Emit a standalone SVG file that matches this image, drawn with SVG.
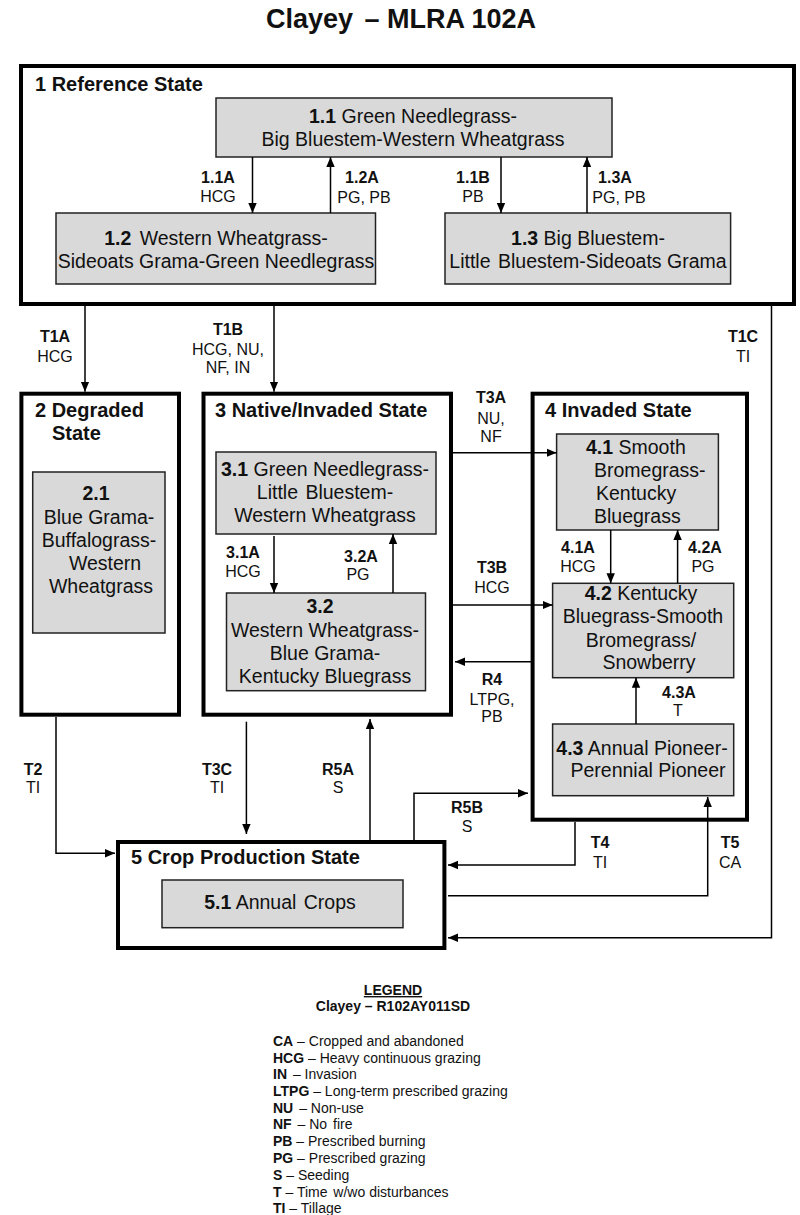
<svg xmlns="http://www.w3.org/2000/svg" width="800" height="1215" viewBox="0 0 800 1215">
<defs>
<marker id="ah" markerUnits="userSpaceOnUse" markerWidth="10" markerHeight="10" refX="10" refY="5" orient="auto" viewBox="0 0 10 10">
<path d="M0,0.8 L10,5 L0,9.2 z" fill="#000"/>
</marker>
<style>
text{font-family:"Liberation Sans",Arial,Helvetica,sans-serif;fill:#111}
.state{fill:none;stroke:#000;stroke-width:4}
.box{fill:#d9d9d9;stroke:#222;stroke-width:1.5}
.bt{font-size:19.5px;text-anchor:middle}
.btl{font-size:19.5px}
.sh{font-size:20px;font-weight:bold}
.lb{font-size:16px;text-anchor:middle}
.b{font-weight:bold}
.conn{fill:none;stroke:#000;stroke-width:1.5;marker-end:url(#ah)}
.lg{font-size:14px}
</style>
</defs>
<rect width="800" height="1215" fill="#fff"/>
<text x="401" y="28" font-size="27" font-weight="bold" text-anchor="middle">Clayey <tspan dx="4">– MLRA 102A</tspan></text>

<g id="state1">
<rect class="state" x="21" y="66" width="773" height="238"/>
<text class="sh" x="35" y="91">1 Reference State</text>
</g>
<g id="n1_1">
<rect class="box" x="216" y="98" width="396" height="59"/>
<text class="bt" x="413" y="123"><tspan class="b">1.1</tspan> Green Needlegrass-</text>
<text class="bt" x="413" y="146">Big Bluestem-Western Wheatgrass</text>
</g>
<g id="n1_2">
<rect class="box" x="56" y="213" width="319.5" height="71"/>
<text class="bt" x="216" y="245"><tspan class="b">1.2</tspan> <tspan dx="3">Western Wheatgrass-</tspan></text>
<text class="bt" x="216" y="268">Sideoats Grama-Green Needlegrass</text>
</g>
<g id="n1_3">
<rect class="box" x="445" y="213" width="285.6" height="71"/>
<text class="bt" x="588" y="245"><tspan class="b">1.3</tspan> Big Bluestem-</text>
<text class="bt" x="588" y="268">Little <tspan dx="2">Bluestem-Sideoats Grama</tspan></text>
</g>

<g id="state2">
<rect class="state" x="21.4" y="393.7" width="157.6" height="321"/>
<text class="sh" x="35" y="417">2 Degraded</text>
<text class="sh" x="52" y="440">State</text>
</g>
<g id="n2_1">
<rect class="box" x="32.7" y="472" width="132.3" height="161"/>
<text class="bt b" x="96" y="500">2.1</text>
<text class="bt" x="99" y="524">Blue Grama-</text>
<text class="bt" x="99" y="547">Buffalograss-</text>
<text class="bt" x="105" y="570">Western</text>
<text class="bt" x="101" y="593">Wheatgrass</text>
</g>

<g id="state3">
<rect class="state" x="203.5" y="393.7" width="247.5" height="321"/>
<text class="sh" x="215" y="417">3 Native/Invaded State</text>
</g>
<g id="n3_1">
<rect class="box" x="216" y="452" width="220" height="82"/>
<text class="bt" x="325" y="476"><tspan class="b">3.1</tspan> Green Needlegrass-</text>
<text class="bt" x="325" y="499">Little <tspan dx="2">Bluestem-</tspan></text>
<text class="bt" x="325" y="522">Western Wheatgrass</text>
</g>
<g id="n3_2">
<rect class="box" x="226.5" y="593" width="199" height="97.7"/>
<text class="bt b" x="320" y="613">3.2</text>
<text class="bt" x="325" y="637">Western Wheatgrass-</text>
<text class="bt" x="325" y="660">Blue Grama-</text>
<text class="bt" x="325" y="683">Kentucky Bluegrass</text>
</g>

<g id="state4">
<rect class="state" x="532.6" y="393.7" width="214.4" height="426"/>
<text class="sh" x="545" y="417">4 Invaded State</text>
</g>
<g id="n4_1">
<rect class="box" x="556.6" y="434" width="161.8" height="96"/>
<text class="btl" x="586" y="454"><tspan class="b">4.1</tspan> Smooth</text>
<text class="btl" x="594" y="477">Bromegrass-</text>
<text class="btl" x="596" y="500">Kentucky</text>
<text class="btl" x="594" y="523">Bluegrass</text>
</g>
<g id="n4_2">
<rect class="box" x="552.6" y="583.3" width="181.1" height="94.4"/>
<text class="bt" x="641" y="600"><tspan class="b">4.2</tspan> Kentucky</text>
<text class="bt" x="643" y="623">Bluegrass-Smooth</text>
<text class="bt" x="641" y="647">Bromegrass/</text>
<text class="bt" x="649" y="669">Snowberry</text>
</g>
<g id="n4_3">
<rect class="box" x="552.6" y="724" width="181.1" height="71.7"/>
<text class="bt" x="642" y="755"><tspan class="b">4.3</tspan> Annual Pioneer-</text>
<text class="bt" x="648" y="777">Perennial Pioneer</text>
</g>

<g id="state5">
<rect class="state" x="118" y="842" width="326.4" height="106"/>
<text class="sh" x="131" y="864">5 Crop Production State</text>
</g>
<g id="n5_1">
<rect class="box" x="162" y="880" width="241" height="47.7"/>
<text class="bt" x="280" y="909"><tspan class="b">5.1</tspan> Annual <tspan dx="2">Crops</tspan></text>
</g>

<g id="connectors">
<path class="conn" d="M252.5,157 V213"/>
<path class="conn" d="M330.5,213 V157"/>
<path class="conn" d="M501,157 V213"/>
<path class="conn" d="M587,213 V157"/>
<path class="conn" d="M85,305 V391.7"/>
<path class="conn" d="M274,305 V391.7"/>
<path class="conn" d="M771.5,305 V937.7 H448"/>
<path class="conn" d="M453,452.7 H556.6"/>
<path class="conn" d="M453,605 H552.6"/>
<path class="conn" d="M533,661.7 H455"/>
<path class="conn" d="M274,536 V593"/>
<path class="conn" d="M393,593 V534"/>
<path class="conn" d="M610.7,530 V583.3"/>
<path class="conn" d="M677.6,583.3 V530"/>
<path class="conn" d="M636,724 V677.7"/>
<path class="conn" d="M56,717 V853.3 H115"/>
<path class="conn" d="M246.4,721.7 V834"/>
<path class="conn" d="M370,840 V719"/>
<path class="conn" d="M414,840 V793.3 H528"/>
<path class="conn" d="M575,822 V865 H448"/>
<path class="conn" d="M448,895.7 H707.7 V797"/>
</g>

<g id="labels">
<text class="lb b" x="218" y="183">1.1A</text>
<text class="lb" x="218" y="202">HCG</text>
<text class="lb b" x="362" y="183">1.2A</text>
<text class="lb" x="364" y="203">PG, PB</text>
<text class="lb b" x="473" y="183">1.1B</text>
<text class="lb" x="473" y="202">PB</text>
<text class="lb b" x="615" y="183">1.3A</text>
<text class="lb" x="619" y="203">PG, PB</text>
<text class="lb b" x="55" y="342">T1A</text>
<text class="lb" x="55" y="362">HCG</text>
<text class="lb b" x="228" y="335">T1B</text>
<text class="lb" x="228" y="355">HCG, NU,</text>
<text class="lb" x="228" y="373">NF, IN</text>
<text class="lb b" x="743" y="342">T1C</text>
<text class="lb" x="743" y="362">TI</text>
<text class="lb b" x="491" y="403">T3A</text>
<text class="lb" x="491" y="424">NU,</text>
<text class="lb" x="491" y="442">NF</text>
<text class="lb b" x="243" y="558">3.1A</text>
<text class="lb" x="243" y="577">HCG</text>
<text class="lb b" x="361" y="562">3.2A</text>
<text class="lb" x="358" y="580">PG</text>
<text class="lb b" x="492" y="573">T3B</text>
<text class="lb" x="492" y="593">HCG</text>
<text class="lb b" x="578" y="553">4.1A</text>
<text class="lb" x="578" y="572">HCG</text>
<text class="lb b" x="705" y="553">4.2A</text>
<text class="lb" x="703" y="572">PG</text>
<text class="lb b" x="492" y="685">R4</text>
<text class="lb" x="492" y="705">LTPG,</text>
<text class="lb" x="492" y="722">PB</text>
<text class="lb b" x="679" y="698">4.3A</text>
<text class="lb" x="678" y="716">T</text>
<text class="lb b" x="33" y="775">T2</text>
<text class="lb" x="33" y="793">TI</text>
<text class="lb b" x="217" y="775">T3C</text>
<text class="lb" x="217" y="793">TI</text>
<text class="lb b" x="338" y="775">R5A</text>
<text class="lb" x="338" y="793">S</text>
<text class="lb b" x="467" y="813">R5B</text>
<text class="lb" x="467" y="832">S</text>
<text class="lb b" x="600" y="848">T4</text>
<text class="lb" x="600" y="868">TI</text>
<text class="lb b" x="730" y="848">T5</text>
<text class="lb" x="730" y="868">CA</text>
</g>

<g id="legend">
<text class="lg b" x="393" y="995" text-anchor="middle" text-decoration="underline">LEGEND</text>
<text class="lg b" x="393" y="1011" text-anchor="middle">Clayey – R102AY011SD</text>
<text class="lg" x="273" y="1046"><tspan class="b">CA</tspan> – Cropped and abandoned</text>
<text class="lg" x="273" y="1063"><tspan class="b">HCG</tspan> – Heavy continuous grazing</text>
<text class="lg" x="273" y="1079"><tspan class="b">IN</tspan> <tspan dx="2">– Invasion</tspan></text>
<text class="lg" x="273" y="1096"><tspan class="b">LTPG</tspan> – Long-term prescribed grazing</text>
<text class="lg" x="273" y="1113"><tspan class="b">NU</tspan> <tspan dx="2">– Non-use</tspan></text>
<text class="lg" x="273" y="1129"><tspan class="b">NF</tspan> <tspan dx="2">– No</tspan> <tspan dx="2">fire</tspan></text>
<text class="lg" x="273" y="1146"><tspan class="b">PB</tspan> – Prescribed burning</text>
<text class="lg" x="273" y="1163"><tspan class="b">PG</tspan> – Prescribed grazing</text>
<text class="lg" x="273" y="1180"><tspan class="b">S</tspan> – Seeding</text>
<text class="lg" x="273" y="1197"><tspan class="b">T</tspan> – Time <tspan dx="2">w/wo disturbances</tspan></text>
<text class="lg" x="273" y="1213"><tspan class="b">TI</tspan> – Tillage</text>
</g>
</svg>
